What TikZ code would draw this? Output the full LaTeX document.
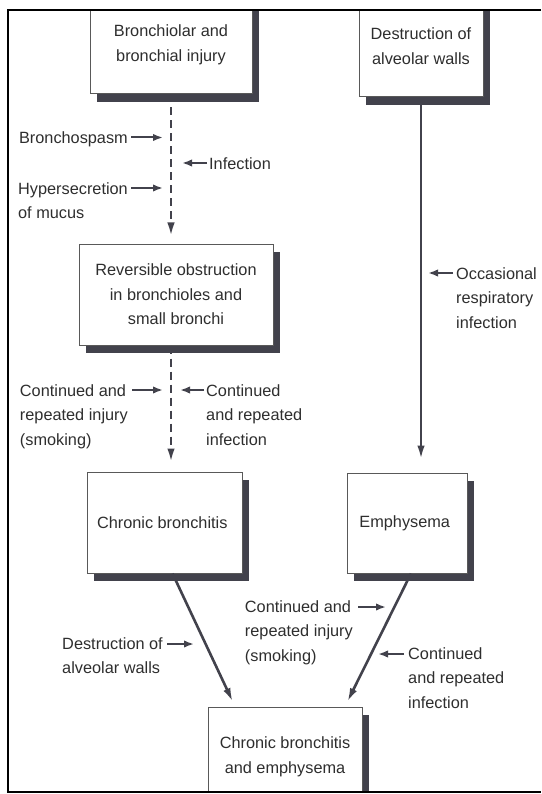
\documentclass[tikz,border=0pt]{standalone}
\usepackage{fontspec}
\setmainfont{Liberation Sans}
\usetikzlibrary{arrows.meta,shadows}
\definecolor{ink}{HTML}{2E2E2E}
\definecolor{slate}{HTML}{42424C}

\begin{document}
\begin{tikzpicture}
      [x=1pt, y=-1pt,
       every node/.style={
           font=\fontsize{16.3}{24.5}\selectfont,
           text=ink
         },
       stage/.style={
           rectangle,
           draw=black!65, line width=1pt,
           fill=white,
           align=center,
           drop shadow={shadow xshift=7pt, shadow yshift=-8pt,
                        fill=slate, opacity=1}
         },
       cause/.style={
           align=left,
           inner sep=0pt
         },
       flow/.style={
           draw=slate, line width=2.6pt,
           -{Latex[length=14pt,width=7.5pt]}
         },
       dashflow/.style={
           flow,
           dash pattern=on 8pt off 5pt
         },
       nudge/.style={
           draw=slate, line width=2pt,
           -{Latex[length=10pt,width=7.5pt]}
         },
       ]
    \useasboundingbox (0,0) rectangle (541,794);

    \begin{scope}
    \clip (8,10) rectangle (541,792);

    \node [stage, minimum width=162pt, minimum height=98pt] (injury) at (171,45) {
      Bronchiolar and\\bronchial injury
    };

    \node [stage, minimum width=124pt, minimum height=102pt] (alveolar) at (421,46) {
      Destruction of\\alveolar walls
    };

    \node [stage, minimum width=194pt, minimum height=101pt] (reversible) at (176,294.5) {
      Reversible obstruction\\in bronchioles and\\small bronchi
    };

    \node [stage, minimum width=155pt, minimum height=101pt] (chronic) at (164.5,522.5) {
      Chronic bronchitis
    };

    \node [stage, minimum width=120pt, minimum height=100pt] (emphysema) at (407,523) {
      Emphysema
    };

    \node [stage, minimum width=154pt, minimum height=100pt] (both) at (285,757) {
      Chronic bronchitis\\and emphysema
    };

    \path (injury.south) edge [dashflow, shorten >=7pt] (injury.south |- reversible.north);
    \path (reversible.south -| injury.south) edge [dashflow, shorten >=9pt] (injury.south |- chronic.north);
    \path (alveolar.south) edge [flow, shorten >=13pt] (alveolar.south |- emphysema.north);
    \path ([xshift=8pt]chronic.south) edge [flow, shorten >=5pt] ([xshift=-50pt]both.north);
    \path ([xshift=4pt]emphysema.south) edge [flow, shorten >=5pt] ([xshift=60pt]both.north);

    \node [cause, anchor=north east] (spasm) at (128,131) {Bronchospasm};
    \path ([xshift=3pt,yshift=-6.5pt]spasm.north east) edge [nudge] ([xshift=35pt,yshift=-6.5pt]spasm.north east);

    \node [cause, anchor=north west] (infect) at (209,157) {Infection};
    \path ([xshift=-2pt,yshift=-6pt]infect.north west) edge [nudge] ([xshift=-27pt,yshift=-6pt]infect.north west);

    \node [cause, anchor=north east] (mucus) at (128,182) {Hypersecretion\\of mucus};
    \path ([xshift=3pt,yshift=-6pt]mucus.north east) edge [nudge] ([xshift=35pt,yshift=-6pt]mucus.north east);

    \node [cause, anchor=north east] (smoking) at (128,384) {Continued and\\repeated injury\\(smoking)};
    \path ([xshift=4pt,yshift=-6pt]smoking.north east) edge [nudge] ([xshift=35pt,yshift=-6pt]smoking.north east);

    \node [cause, anchor=north west] (reinfect) at (206,384) {Continued\\and repeated\\infection};
    \path ([xshift=-2pt,yshift=-6pt]reinfect.north west) edge [nudge] ([xshift=-26pt,yshift=-6pt]reinfect.north west);

    \node [cause, anchor=north west] (occasional) at (456,267) {Occasional\\respiratory\\infection};
    \path ([xshift=-3pt,yshift=-6pt]occasional.north west) edge [nudge] ([xshift=-28pt,yshift=-6pt]occasional.north west);

    \node [cause, anchor=north east] (walls) at (163,637) {Destruction of\\alveolar walls};
    \path ([xshift=4pt,yshift=-7pt]walls.north east) edge [nudge] ([xshift=31pt,yshift=-7pt]walls.north east);

    \node [cause, anchor=north east] (smoking2) at (353,600) {Continued and\\repeated injury\\(smoking)};
    \path ([xshift=5pt,yshift=-7pt]smoking2.north east) edge [nudge] ([xshift=33pt,yshift=-7pt]smoking2.north east);

    \node [cause, anchor=north west] (reinfect2) at (408,647) {Continued\\and repeated\\infection};
    \path ([xshift=-4pt,yshift=-7pt]reinfect2.north west) edge [nudge] ([xshift=-30pt,yshift=-7pt]reinfect2.north west);
    \end{scope}

    \draw [line width=2.5pt] (541,10) -- (8,10) -- (8,792) -- (541,792);
  \end{tikzpicture}
\end{document}
